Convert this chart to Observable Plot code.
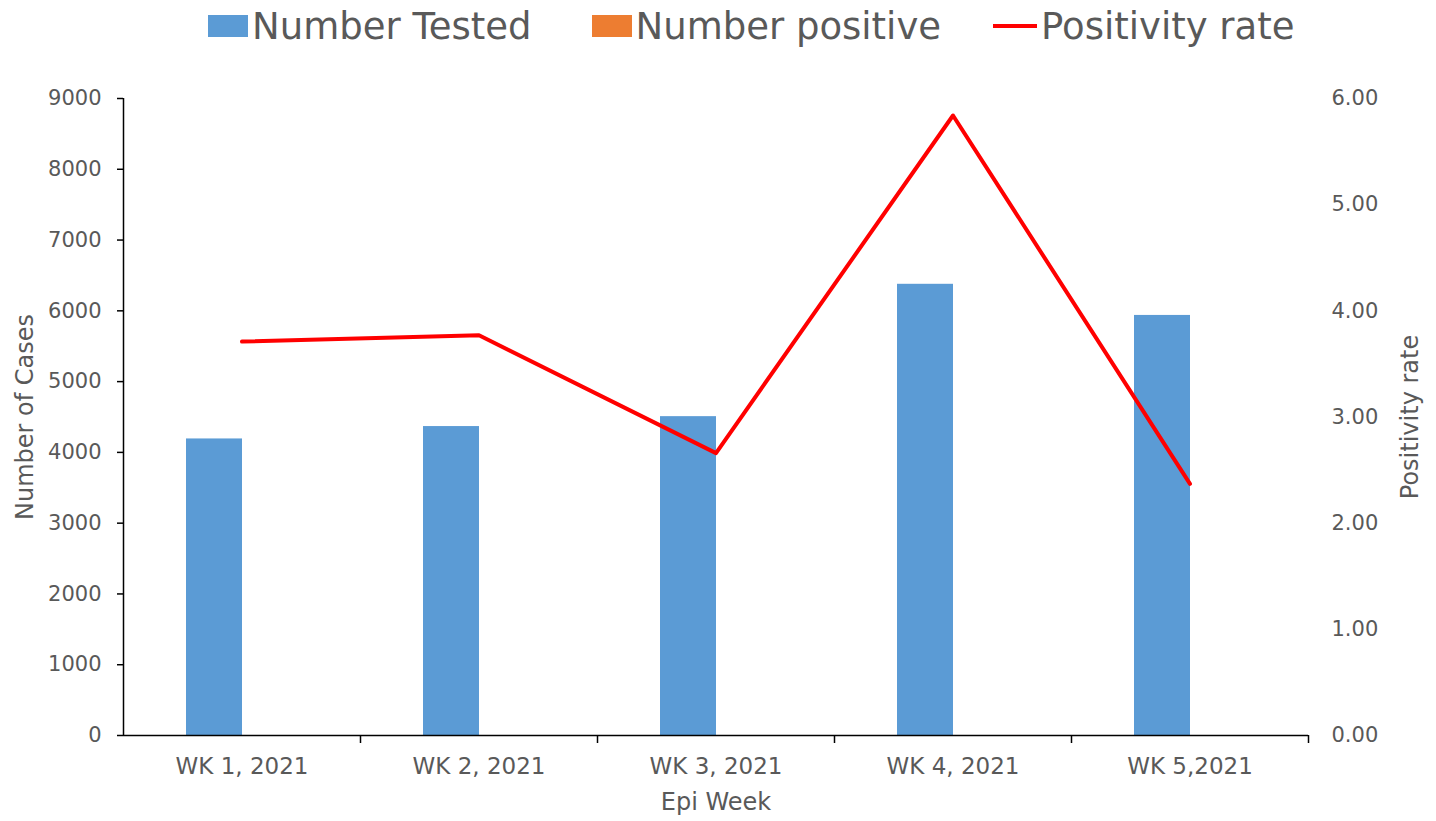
<!DOCTYPE html>
<html>
<head>
<meta charset="utf-8">
<script src="https://cdn.jsdelivr.net/npm/d3@7"></script>
<script src="https://cdn.jsdelivr.net/npm/@observablehq/plot@0.6"></script>
<style>
  html, body { margin: 0; padding: 0; background: #fff; }
  body { width: 1436px; height: 821px; overflow: hidden; font-family: "DejaVu Sans", sans-serif; }
  #legend { height: 52px; display: flex; align-items: center; padding-left: 208px; color: #595959; font-size: 37px; box-sizing: border-box; }
  .item { display: flex; align-items: center; margin-right: 60px; }
  .item:nth-child(2) { margin-right: 52px; }
  .sw { width: 40px; height: 22px; margin-right: 4px; }
  .ln { width: 44px; height: 4px; margin-right: 4px; background: #FF0000; }
</style>
</head>
<body>
<div id="legend"></div>
<div id="chart"></div>
<script>
const weeks = ["WK 1, 2021", "WK 2, 2021", "WK 3, 2021", "WK 4, 2021", "WK 5,2021"];
const numberTested = [4190, 4365, 4505, 6375, 5935];
const numberPositive = [0, 0, 0, 0, 0];
const positivityRate = [3.71, 3.77, 2.66, 5.84, 2.37];
const seriesNames = ["Number Tested", "Number positive", "Positivity rate"];
const seriesColors = ["#5B9BD5", "#ED7D31", "#FF0000"];
const leftTicks = [0, 1000, 2000, 3000, 4000, 5000, 6000, 7000, 8000, 9000];
const rightTicks = [0, 1, 2, 3, 4, 5, 6];

const scaleFactor = 9000 / 6; // right axis 0..6 maps onto left 0..9000

const rows = weeks.map((w, i) => ({week: w, tested: numberTested[i], positive: numberPositive[i], rate: positivityRate[i]}));

// legend
const legend = document.getElementById("legend");
seriesNames.forEach((name, i) => {
  const it = document.createElement("div");
  it.className = "item";
  const sw = document.createElement("div");
  if (i < 2) { sw.className = "sw"; sw.style.background = seriesColors[i]; }
  else { sw.className = "ln"; }
  const tx = document.createElement("span");
  tx.textContent = name;
  it.appendChild(sw); it.appendChild(tx);
  legend.appendChild(it);
});

const W = 1436, H = 769;
const mL = 123, mR = 128, mT = 46, mB = 86;
const half = (W - mL - mR) / weeks.length / 2;

const chart = Plot.plot({
  width: W, height: H,
  marginLeft: mL, marginRight: mR, marginTop: mT, marginBottom: mB,
  style: {fontFamily: "DejaVu Sans", fontSize: "21px", color: "#595959", background: "white", overflow: "visible"},
  x: {domain: weeks, padding: 0, label: null},
  y: {domain: [0, 9000], label: null},
  marks: [
    Plot.barY(rows, {x: "week", y: "tested", fill: seriesColors[0], insetLeft: 63, insetRight: 118}),
    Plot.barY(rows, {x: "week", y: "positive", fill: seriesColors[1], insetLeft: 119, insetRight: 62}),
    Plot.line(rows, {x: "week", y: d => d.rate * scaleFactor, stroke: seriesColors[2], strokeWidth: 4, strokeLinejoin: "round", strokeLinecap: "round"}),
    Plot.ruleY([0], {stroke: "#000", strokeWidth: 1.5}),
    Plot.ruleX([weeks[0]], {y1: 0, y2: 9000, dx: -half, stroke: "#000", strokeWidth: 1.5}),
    Plot.axisX({tickSize: 0, tickPadding: 22, fontSize: 23, fill: "#595959"}),
    Plot.axisX({tickSize: 8, tickFormat: () => "", dx: half, stroke: "#000", strokeWidth: 1.5}),
    Plot.axisY({anchor: "left", ticks: leftTicks, tickSize: 6, tickPadding: 16, tickFormat: d => String(d), label: null, stroke: "#000", strokeWidth: 1.5, fill: "#595959"}),
    Plot.axisY({anchor: "right", ticks: rightTicks.map(t => t * scaleFactor), tickSize: 0, tickPadding: 23, tickFormat: d => (d / scaleFactor).toFixed(2), label: null, fill: "#595959"}),
    Plot.text(["Number of Cases"], {frameAnchor: "left", dx: -98, rotate: -90, textAnchor: "middle", fontSize: 24, fill: "#595959"}),
    Plot.text(["Positivity rate"], {frameAnchor: "right", dx: 102, rotate: -90, textAnchor: "middle", fontSize: 24, fill: "#595959"}),
    Plot.text(["Epi Week"], {frameAnchor: "bottom", dy: 74, fontSize: 24, fill: "#595959"})
  ]
});
document.getElementById("chart").appendChild(chart);
</script>
</body>
</html>
